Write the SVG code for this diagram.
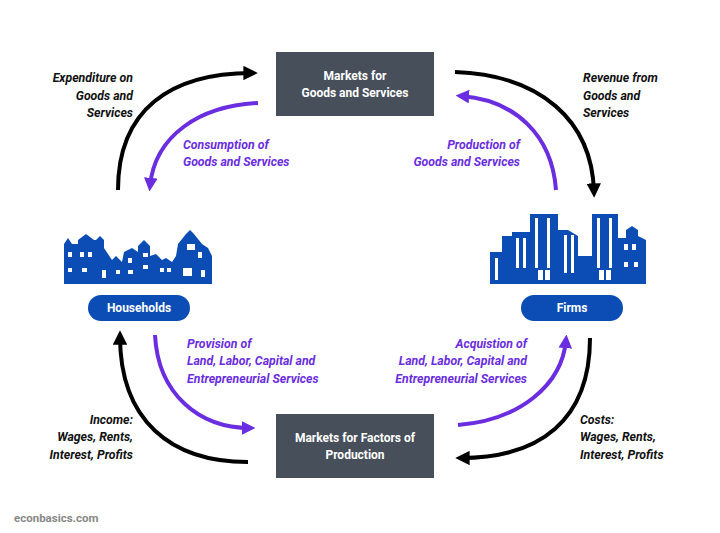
<svg xmlns="http://www.w3.org/2000/svg" width="720" height="533" viewBox="0 0 720 533">
<defs>
<style>
.box{fill:#474f5b}
.bt{font-family:Roboto,"Liberation Sans",sans-serif;font-weight:bold;font-size:12px;fill:#fff;text-anchor:middle}
.pill{fill:#0b4db5}
.lb{font-family:Roboto,"Liberation Sans",sans-serif;font-weight:bold;font-style:italic;font-size:12.3px;fill:#111}
.pl{font-family:Roboto,"Liberation Sans",sans-serif;font-weight:bold;font-style:italic;font-size:12.3px;fill:#6a2ee0}
.r{text-anchor:end}
.k{fill:none;stroke:#000;stroke-width:4}
.p{fill:none;stroke:#6a2ee0;stroke-width:4}
.city{fill:#0b4db5}
.win{fill:#fff}
</style>
<marker id="ak" viewBox="0 0 10 10" refX="6" refY="5" markerWidth="3.6" markerHeight="3.6" orient="auto" markerUnits="strokeWidth"><path d="M0,0L10,5L0,10z" fill="#000"/></marker>
<marker id="ap" viewBox="0 0 10 10" refX="6" refY="5" markerWidth="3.4" markerHeight="3.4" orient="auto" markerUnits="strokeWidth"><path d="M0,0L10,5L0,10z" fill="#6a2ee0"/></marker>
</defs>
<rect width="720" height="533" fill="#fff"/>
<g id="connectors">
<path class="k" d="M118,190 C118,110 170,73 252,73" marker-end="url(#ak)"/>
<path class="k" d="M455,72 C540,75 592,120 594,192" marker-end="url(#ak)"/>
<path class="k" d="M590,338 C590,420 540,458 461,458" marker-end="url(#ak)"/>
<path class="k" d="M248,462 C170,462 120,420 120,336" marker-end="url(#ak)"/>
<path class="p" d="M258,103 C200,106 155,135 150,186" marker-end="url(#ap)"/>
<path class="p" d="M556,190 C552,135 515,100 461,96" marker-end="url(#ap)"/>
<path class="p" d="M155,335 C158,395 200,428 250,428" marker-end="url(#ap)"/>
<path class="p" d="M458,425 C520,420 562,385 566,340" marker-end="url(#ap)"/>
</g>
<g id="goods-market"><rect class="box" x="276" y="52" width="158" height="64"/><text class="bt" x="355" y="80">Markets for</text><text class="bt" x="355" y="97">Goods and Services</text></g>
<g id="factor-market"><rect class="box" x="276" y="414" width="158" height="64"/><text class="bt" x="355" y="442">Markets for Factors of</text><text class="bt" x="355" y="459">Production</text></g>
<g id="households">
<path class="city" d="M64,284 L64,244 L68,238 L72,244 L78,244 L78,240 L86,234 L94,240 L96,240 L100,236 L104,240 L104,248 L112,260 L116,256 L122,262 L124,252 L132,248 L138,252 L138,246 L144,240 L150,246 L150,256 L156,254 L162,260 L166,258 L172,262 L176,256 L178,244 L186,234 L190,230 L194,234 L202,244 L208,248 L212,256 L212,284 Z"/>
<g class="win"><rect x="68" y="252" width="4" height="5"/><rect x="80" y="252" width="4" height="5"/><rect x="88" y="252" width="4" height="5"/><rect x="68" y="268" width="4" height="4"/><rect x="82" y="268" width="5" height="4"/><rect x="116" y="270" width="4" height="4"/><rect x="128" y="258" width="4" height="5"/><rect x="128" y="270" width="5" height="4"/><rect x="143" y="253" width="5" height="4"/><rect x="143" y="265" width="5" height="4"/><rect x="160" y="268" width="4" height="4"/><rect x="167" y="268" width="4" height="4"/><rect x="187" y="244" width="8" height="6"/><rect x="198" y="252" width="4" height="6"/><rect x="183" y="268" width="9" height="8"/><rect x="201" y="270" width="4" height="7"/><rect x="102" y="270" width="4" height="8"/></g>
<rect class="pill" x="88" y="295" width="102" height="26" rx="13"/><text class="bt" x="139" y="312">Households</text>
</g>
<g id="firms">
<path class="city" d="M490,284 L490,252 L502,252 L502,236 L512,236 L512,232 L530,232 L530,214 L558,214 L558,230 L568,230 L578,236 L578,256 L592,256 L592,214 L618,214 L618,238 L626,238 L626,230 L632,226 L638,230 L638,236 L646,240 L646,284 Z"/>
<g class="win"><rect x="495" y="258" width="3" height="22"/><rect x="516" y="238" width="3" height="30"/><rect x="523" y="238" width="3" height="30"/><rect x="535" y="218" width="3" height="50"/><rect x="547" y="218" width="3" height="50"/><rect x="564" y="235" width="3" height="38"/><rect x="571" y="235" width="3" height="38"/><rect x="597" y="218" width="3" height="50"/><rect x="609" y="218" width="3" height="50"/><rect x="624" y="244" width="4" height="6"/><rect x="632" y="244" width="4" height="6"/><rect x="624" y="262" width="4" height="5"/><rect x="634" y="262" width="4" height="5"/><rect x="538" y="270" width="5" height="10"/><rect x="545" y="270" width="5" height="10"/><rect x="599" y="270" width="5" height="10"/><rect x="606" y="270" width="5" height="10"/></g>
<rect class="pill" x="521" y="295" width="102" height="26" rx="13"/><text class="bt" x="572" y="312">Firms</text>
</g>
<g id="labels">
<text class="lb r" x="133" y="82">Expenditure on</text><text class="lb r" x="133" y="100">Goods and</text><text class="lb r" x="133" y="117">Services</text>
<text class="lb" x="583" y="82">Revenue from</text><text class="lb" x="583" y="100">Goods and</text><text class="lb" x="583" y="117">Services</text>
<text class="pl" x="183" y="149">Consumption of</text><text class="pl" x="183" y="166">Goods and Services</text>
<text class="pl r" x="520" y="149">Production of</text><text class="pl r" x="520" y="166">Goods and Services</text>
<text class="pl" x="187" y="348">Provision of</text><text class="pl" x="187" y="365">Land, Labor, Capital and</text><text class="pl" x="187" y="383">Entrepreneurial Services</text>
<text class="pl r" x="527" y="348">Acquistion of</text><text class="pl r" x="527" y="365">Land, Labor, Capital and</text><text class="pl r" x="527" y="383">Entrepreneurial Services</text>
<text class="lb r" x="133" y="424">Income:</text><text class="lb r" x="133" y="441">Wages, Rents,</text><text class="lb r" x="133" y="459">Interest, Profits</text>
<text class="lb" x="580" y="424">Costs:</text><text class="lb" x="580" y="441">Wages, Rents,</text><text class="lb" x="580" y="459">Interest, Profits</text>
<text x="14" y="522" font-family="Roboto,'Liberation Sans',sans-serif" font-weight="bold" font-size="11.5" fill="#888">econbasics.com</text>
</g>
</svg>
